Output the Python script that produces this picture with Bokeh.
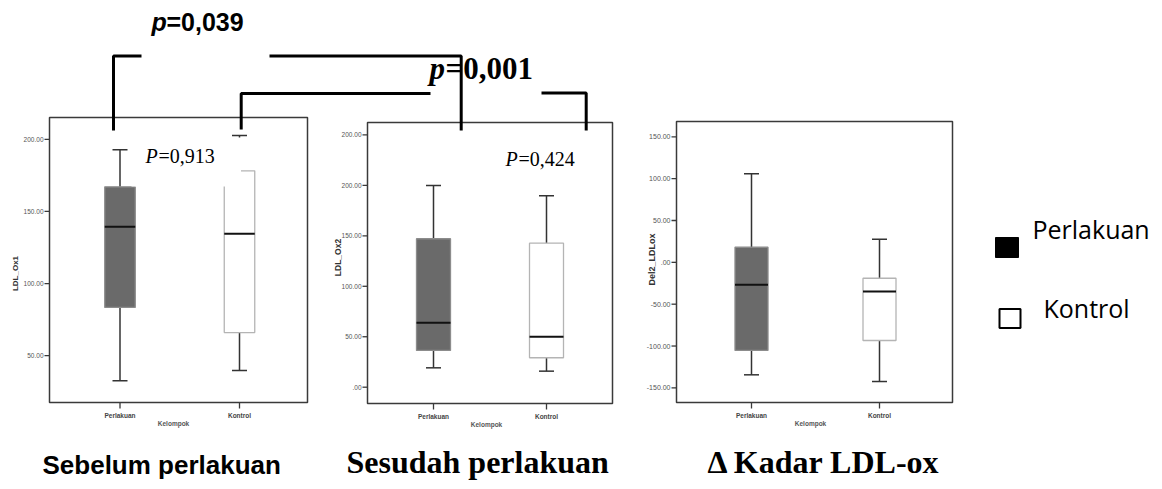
import math
from bokeh.plotting import figure
from bokeh.models import Range1d, ColumnDataSource
from bokeh.core.properties import value
from bokeh.embed import file_html
from bokeh.resources import INLINE

# ---------------- data ----------------
groups = ["Perlakuan", "Kontrol"]

# LDL_Ox1 (sebelum perlakuan)
ox1_low = [32.5, 39.7]
ox1_q1 = [83.4, 66.0]
ox1_med = [139.4, 134.5]
ox1_q3 = [167.1, 178.2]
ox1_high = [192.8, 202.7]

# LDL_Ox2 (sesudah perlakuan)
ox2_low = [19.2, 15.9]
ox2_q1 = [36.4, 29.2]
ox2_med = [63.8, 50.0]
ox2_q3 = [147.1, 142.7]
ox2_high = [200.0, 189.7]

# Del2_LDLox (delta)
del_low = [-134.4, -142.4]
del_q1 = [-105.3, -93.4]
del_med = [-26.8, -34.8]
del_q3 = [18.1, -19.0]
del_high = [105.8, 27.6]

ticks1 = [50, 100, 150, 200]
tick_labels1 = ["50.00", "100.00", "150.00", "200.00"]
ticks2 = [0, 50, 100, 150, 200, 250]
tick_labels2 = [".00", "50.00", "100.00", "150.00", "200.00", "200.00"]
ticks3 = [-150, -100, -50, 0, 50, 100, 150]
tick_labels3 = ["-150.00", "-100.00", "-50.00", ".00", "50.00", "100.00", "150.00"]

ytitles = ["LDL_Ox1", "LDL_Ox2", "Del2_LDLox"]
xtitle = "Kelompok"
pvals_between = ["=0,039", "=0,001"]
pvals_within = ["=0,913", "=0,424"]
bottom_titles = ["Sebelum perlakuan", "Sesudah perlakuan", "\u0394 Kadar LDL-ox"]
legend_labels = ["Perlakuan", "Kontrol"]

# ---------------- canvas (picture pixel coordinates) ----------------
W, H = 1154, 481
p = figure(width=W, height=H, x_range=Range1d(0, W), y_range=Range1d(H, 0),
           x_axis_type=None, y_axis_type=None, toolbar_location=None,
           output_backend="svg", min_border=0)
p.grid.visible = False
p.outline_line_color = None
p.background_fill_color = "white"
p.border_fill_color = "white"

SANS = value("Liberation Sans")
SERIF = value("Liberation Serif")

panels = [
    dict(name="a", x0=119.5, d=119.5, c=427.2, b=1.4416, frame=(49, 307, 117, 402), bw=30.5,
         low=ox1_low, q1=ox1_q1, med=ox1_med, q3=ox1_q3, high=ox1_high,
         ticks=ticks1, labels=tick_labels1, yt=ytitles[0], ytpos=(15, 273), ytsize="8px",
         kel=173, tlsize="6.5px"),
    dict(name="b", x0=433.0, d=113.0, c=386.7, b=1.0091, frame=(367, 612, 122, 403), bw=34,
         low=ox2_low, q1=ox2_q1, med=ox2_med, q3=ox2_q3, high=ox2_high,
         ticks=ticks2, labels=tick_labels2, yt=ytitles[1], ytpos=(337, 257), ytsize="8.5px",
         kel=486, tlsize="6.5px"),
    dict(name="c", x0=751.0, d=128.0, c=261.84, b=0.8369, frame=(676, 952, 121, 402), bw=33,
         low=del_low, q1=del_q1, med=del_med, q3=del_q3, high=del_high,
         ticks=ticks3, labels=tick_labels3, yt=ytitles[2], ytpos=(651, 259), ytsize="9px",
         kel=810, tlsize="7px"),
]

CAP_PX = 15
for g in panels:
    xr, yr = "x_" + g["name"], "y_" + g["name"]
    p.extra_x_ranges[xr] = Range1d((0 - g["x0"]) / g["d"], (W - g["x0"]) / g["d"])
    p.extra_y_ranges[yr] = Range1d((g["c"] - H) / g["b"], (g["c"] - 0) / g["b"])
    bw = g["bw"] / g["d"]
    cw = CAP_PX / g["d"]
    xs = [0, 1]
    src = ColumnDataSource(dict(
        x=xs, xl=[x - cw / 2 for x in xs], xr=[x + cw / 2 for x in xs],
        ml=[x - bw / 2 for x in xs], mr=[x + bw / 2 for x in xs],
        low=g["low"], q1=g["q1"], med=g["med"], q3=g["q3"], high=g["high"],
        fill=["#6a6a6a", "#ffffff"], line=["#8c8c8c", "#b4b4b4"]))
    kw = dict(source=src, x_range_name=xr, y_range_name=yr)
    # whiskers
    p.segment(x0="x", y0="q3", x1="x", y1="high", line_color="#333333", line_width=1.5, **kw)
    p.segment(x0="x", y0="q1", x1="x", y1="low", line_color="#333333", line_width=1.5, **kw)
    p.segment(x0="xl", y0="high", x1="xr", y1="high", line_color="#333333", line_width=1.5, **kw)
    p.segment(x0="xl", y0="low", x1="xr", y1="low", line_color="#333333", line_width=1.5, **kw)
    # boxes
    p.vbar(x="x", width=bw, bottom="q1", top="q3", fill_color="fill", line_color="line",
           line_width=1.3, **kw)
    # medians
    p.segment(x0="ml", y0="med", x1="mr", y1="med", line_color="#111111", line_width=2, **kw)

    fl, fr, ft, fb = g["frame"]
    # frame
    p.quad(left=[fl], right=[fr], top=[ft], bottom=[fb], fill_color=None,
           line_color="#3a3a3a", line_width=1.5)
    # y ticks
    n = len(g["ticks"])
    p.segment(x0=[fl - 5] * n, y0=g["ticks"], x1=[fl] * n, y1=g["ticks"],
              line_color="#3a3a3a", line_width=1.3, y_range_name=yr)
    p.text(x=[fl - 6] * n, y=g["ticks"], text=g["labels"], text_align="right",
           text_baseline="middle", text_font=SANS, text_font_size=g["tlsize"],
           text_color="#555555", y_range_name=yr)
    # x ticks
    p.segment(x0=xs, y0=[fb] * 2, x1=xs, y1=[fb + 6] * 2, line_color="#3a3a3a",
              line_width=1.3, x_range_name=xr)
    p.text(x=xs, y=[fb + 9] * 2, text=groups, text_align="center", text_baseline="top",
           text_font=SANS, text_font_style="bold", text_font_size="6.5px",
           text_color="#444444", x_range_name=xr)
    p.text(x=[g["kel"]], y=[fb + 17], text=[xtitle], text_align="center",
           text_baseline="top", text_font=SANS, text_font_style="bold",
           text_font_size="6.5px", text_color="#555555")
    # y title
    p.text(x=[g["ytpos"][0]], y=[g["ytpos"][1]], text=[g["yt"]], angle=math.pi / 2,
           text_align="center", text_baseline="middle", text_font=SANS,
           text_font_style="bold", text_font_size=g["ytsize"], text_color="#333333")

# white text box behind P=0,913 (covers part of the Kontrol box as in the source)
p.quad(left=[131], right=[240.5], top=[137], bottom=[186], fill_color="white", line_color=None)

# within-panel p values
p.text(x=[145], y=[166], text=["P"], text_font=SERIF, text_font_style="italic",
       text_font_size="20px", text_color="black")
p.text(x=[158], y=[166], text=[pvals_within[0]], text_font=SERIF,
       text_font_size="20px", text_color="black")
p.text(x=[505], y=[169], text=["P"], text_font=SERIF, text_font_style="italic",
       text_font_size="20px", text_color="black")
p.text(x=[518], y=[169], text=[pvals_within[1]], text_font=SERIF,
       text_font_size="20px", text_color="black")

# brackets
p.multi_line(xs=[[113, 113, 141], [269, 460.7, 460.7], [240.7, 240.7, 430], [541, 585.7, 585.7]],
             ys=[[130, 55.5, 55.5], [55.5, 55.5, 130], [129, 93, 93], [92.5, 92.5, 130]],
             line_color="black", line_width=3)

# between-group p values
p.text(x=[151], y=[35], text=["p"], text_font=SANS, text_font_style="bold italic",
       text_font_size="25px", text_color="black")
p.text(x=[166], y=[35], text=[pvals_between[0]], text_font=SANS, text_font_style="bold",
       text_font_size="25px", text_color="black")
p.text(x=[429], y=[85], text=["p"], text_font=SERIF, text_font_style="bold italic",
       text_font_size="31px", text_color="black")
p.text(x=[445], y=[85], text=[pvals_between[1]], text_font=SERIF, text_font_style="bold",
       text_font_size="31px", text_color="black")

# legend
p.rect(x=[1006.5], y=[247], width=23, height=20, fill_color="black", line_color="black")
p.rect(x=[1009.5], y=[318], width=21, height=19, fill_color="white", line_color="black",
       line_width=2)
p.text(x=[1032, 1043], y=[245, 324], text=legend_labels, text_font=value("Open Sans"),
       text_font_size="25px", text_color="black")

# bottom titles
p.text(x=[42], y=[479], text=[bottom_titles[0]], text_font=SANS, text_font_style="bold",
       text_font_size="26px", text_color="black")
p.text(x=[346, 707], y=[479, 479], text=bottom_titles[1:], text_font=SERIF,
       text_font_style="bold", text_font_size="32px", text_color="black")

open("out.html", "w").write(file_html(p, INLINE, "chart"))
